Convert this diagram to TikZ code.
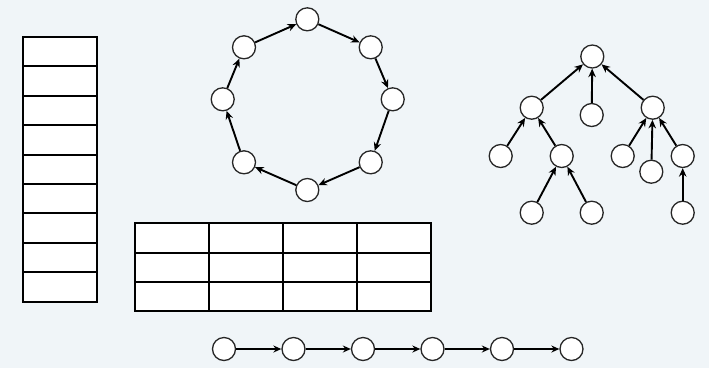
\documentclass[tikz,border=0pt]{standalone}
\usetikzlibrary{arrows.meta}
\definecolor{bgpanel}{HTML}{F0F5F8}
\begin{document}
\begin{tikzpicture}[x=1pt,y=-1pt,
  cell/.style={draw=black,line width=1.9pt,fill=white,minimum width=74pt,minimum height=29.4pt,inner sep=0pt,outer sep=0pt},
  vert/.style={circle,draw=black!85,line width=1.3pt,fill=white,minimum size=23pt,inner sep=0pt},
  link/.style={-{Stealth[length=8.5pt,width=7.5pt]},line width=1.9pt,black},
  chainlink/.style={-{Stealth[length=8pt,width=7pt]},line width=1.6pt,black}]
\fill[bgpanel] (0,0) rectangle (709,368);
\useasboundingbox (0,0) rectangle (709,368);

% vertical stack of cells
\foreach \i in {0,...,8}
  \node[cell] (s\i) at (60,{51.7+29.4*\i}) {};

% 3 x 4 table
\foreach \r in {0,1,2}
  \foreach \c in {0,1,2,3}
    \node[cell] (t\r\c) at ({172+74*\c},{238+29.3*\r}) {};

% ring of eight vertices
\node[vert] (r0) at (307.3,19.3) {};
\node[vert] (r1) at (370.7,47.3) {};
\node[vert] (r2) at (392.7,99.3) {};
\node[vert] (r3) at (370.7,162.3) {};
\node[vert] (r4) at (307.3,190) {};
\node[vert] (r5) at (244,162.3) {};
\node[vert] (r6) at (222.7,99.3) {};
\node[vert] (r7) at (244,47.3) {};
\foreach \a/\b in {r0/r1,r1/r2,r2/r3,r3/r4,r4/r5,r5/r6,r6/r7,r7/r0}
  \draw[link] (\a) -- (\b);

% tree with edges pointing to the parent
\node[vert] (root) at (592.3,56.5) {};
\node[vert] (a) at (531.7,107.7) {};
\node[vert] (b) at (591.7,115) {};
\node[vert] (c) at (652.7,107.7) {};
\node[vert] (a1) at (500.7,156) {};
\node[vert] (a2) at (561.7,156) {};
\node[vert] (c1) at (622.7,156) {};
\node[vert] (c2) at (651.3,171.7) {};
\node[vert] (c3) at (682.7,156) {};
\node[vert] (a21) at (531.7,212.7) {};
\node[vert] (a22) at (591.7,212.7) {};
\node[vert] (c31) at (682.7,212.7) {};
\foreach \a/\b in {a/root,b/root,c/root,a1/a,a2/a,c1/c,c2/c,c3/c,a21/a2,a22/a2,c31/c3}
  \draw[link] (\a) -- (\b);

% linked list
\foreach \i/\x in {0/224,1/293.5,2/363,3/432.5,4/502,5/571.5}
  \node[vert] (l\i) at (\x,349) {};
\foreach \a/\b in {l0/l1,l1/l2,l2/l3,l3/l4,l4/l5}
  \draw[chainlink] (\a) -- (\b);
\end{tikzpicture}
\end{document}
